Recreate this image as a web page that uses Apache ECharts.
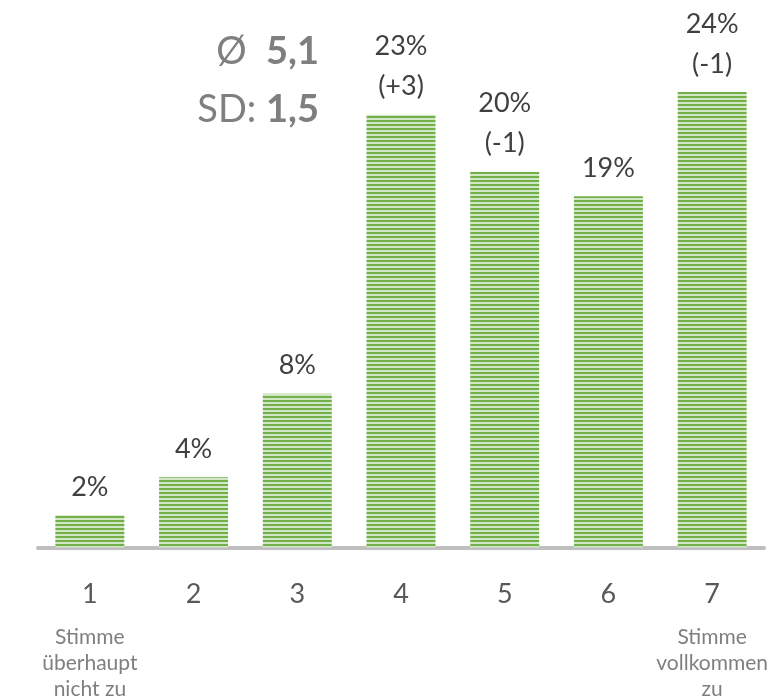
<!DOCTYPE html>
<html>
<head>
<meta charset="utf-8">
<script src="https://cdn.jsdelivr.net/npm/echarts@6/dist/echarts.min.js"></script>
<style>
html,body{margin:0;padding:0;background:#fff;}
#chart{width:771px;height:700px;}
</style>
</head>
<body>
<div id="chart"></div>
<script>
// Data
var categories = ['1','2','3','4','5','6','7'];
var subLabels = ['Stimme\nüberhaupt\nnicht zu','','','','','','Stimme\nvollkommen\nzu'];
var values = [1.7, 3.7, 8.1, 22.8, 19.8, 18.5, 24.0];
var percentLabels = ['2%','4%','8%','23%','20%','19%','24%'];
var changeLabels = ['','','','(+3)','(-1)','','(-1)'];
var meanText = '5,1';
var sdText = '1,5';

// stripe pattern
var pc = document.createElement('canvas');
pc.width = 4; pc.height = 4;
var ctx = pc.getContext('2d');
ctx.fillStyle = '#D3E6C6'; ctx.fillRect(0,0,4,4);
ctx.fillStyle = '#72B04A'; ctx.fillRect(0,0,4,2);

var chart = echarts.init(document.getElementById('chart'), null, {renderer:'canvas'});
var FONT = 'Lato, "Open Sans", sans-serif';

chart.setOption({
  animation: false,
  grid: {left: 38, right: 7, top: 73, bottom: 152, containLabel: false},
  xAxis: {
    type: 'category',
    data: categories,
    axisLine: {show: true, lineStyle: {color: '#BFBFBF', width: 4}},
    axisTick: {show: false},
    axisLabel: {
      interval: 0,
      margin: 33,
      formatter: function (v, i) {
        var s = '{n|' + v + '}';
        if (subLabels[i]) {
          s += '\n' + subLabels[i].split('\n').map(function (l) { return '{s|' + l + '}'; }).join('\n');
        }
        return s;
      },
      rich: {
        n: {fontFamily: FONT, fontSize: 27, color: '#595959', lineHeight: 44, verticalAlign: 'top'},
        s: {fontFamily: FONT, fontSize: 21, color: '#7F7F7F', lineHeight: 26}
      },
      verticalAlign: 'top'
    }
  },
  yAxis: {
    type: 'value',
    min: 0, max: 25,
    show: false,
    splitLine: {show: false}
  },
  series: [{
    type: 'bar',
    data: values,
    barCategoryGap: '33.5%',
    itemStyle: {color: {image: pc, repeat: 'repeat'}},
    label: {
      show: true,
      position: 'top',
      distance: 8,
      fontFamily: FONT,
      fontSize: 27,
      color: '#404040',
      lineHeight: 40,
      formatter: function (p) {
        var t = percentLabels[p.dataIndex];
        if (changeLabels[p.dataIndex]) t += '\n' + changeLabels[p.dataIndex];
        return t;
      }
    }
  }],
  graphic: [
    {
      type: 'text', right: 771 - 319, top: 33,
      style: {
        text: '{r|Ø  }{b|' + meanText + '}',
        fill: '#7F7F7F',
        rich: {
          r: {fontFamily: FONT, fontSize: 38, fill: '#7F7F7F'},
          b: {fontFamily: FONT, fontSize: 38, fontWeight: 'bold', fill: '#7F7F7F'}
        }
      }
    },
    {
      type: 'text', right: 771 - 319, top: 91,
      style: {
        text: '{r|SD: }{b|' + sdText + '}',
        fill: '#7F7F7F',
        rich: {
          r: {fontFamily: FONT, fontSize: 38, fill: '#7F7F7F'},
          b: {fontFamily: FONT, fontSize: 38, fontWeight: 'bold', fill: '#7F7F7F'}
        }
      }
    }
  ]
});
</script>
</body>
</html>
